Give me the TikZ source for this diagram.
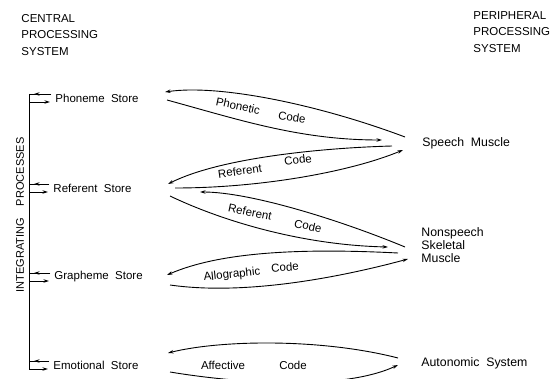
\documentclass[tikz,border=0pt]{standalone}
\usepackage{fontspec}
\setmainfont{Liberation Sans}
\usetikzlibrary{arrows.meta,positioning}

\tikzset{
        store/.style={anchor=west, inner sep=0pt, font=\fontsize{11.5}{13}\selectfont},
        target/.style={anchor=west, inner sep=0pt, align=left, font=\fontsize{12.3}{13}\selectfont},
        head/.style={anchor=north west, inner sep=0pt, align=left, font=\fontsize{11.5}{16.5}\selectfont},
        code/.style={inner sep=0pt, font=\fontsize{11.5}{12}\selectfont},
        arr/.style={-{Stealth[length=5.5pt,width=3.4pt]}},
}

\begin{document}
\begin{tikzpicture}[x=1pt, y=-1pt, line width=0.9pt]
        \clip (0,0) rectangle (559,379);

        \node[head] (cps) at (21,14) {CENTRAL\\PROCESSING\\SYSTEM};
        \node[head] (pps) at (473,11) {PERIPHERAL\\PROCESSING\\SYSTEM};

        \node[store] (phon) at (55,98) {Phoneme~~Store};
        \node[store] (refs) at (53,188) {Referent~~Store};
        \node[store] (graph) at (54,277) {Grapheme~~Store};
        \node[store] (emo) at (53,365) {Emotional~~Store};

        \node[target] (speech) at (422,143) {Speech~~Muscle};
        \node[target] (nonsp) at (421,245) {Nonspeech\\Skeletal\\Muscle};
        \node[target] (auto) at (421,363) {Autonomic~~System};

        \node[rotate=90, inner sep=0pt, font=\fontsize{11}{12}\selectfont] (ip) at (20,215)
              {INTEGRATING\hspace{12pt}PROCESSES};
        \coordinate (ip-x) at (29,0);

        \foreach \s in {phon,refs,graph,emo} {
          \coordinate (\s-out) at ([shift={(-4,-4)}]\s.west);
          \coordinate (\s-in) at ([shift={(-5,4)}]\s.west);
          \draw (\s-out) -- (\s-out -| ip-x);
          \draw[arr] (\s-out) -- ([xshift=5pt]\s-out -| ip-x);
          \draw[arr] (\s-in -| ip-x) -- (\s-in);
        }
        \draw (phon-out -| ip-x) -- (emo-in -| ip-x);

        \coordinate (pc1) at (405,137); \coordinate (pc2) at (165,92);
        \coordinate (pc3) at (167,100); \coordinate (pc4) at (382,140);
        \draw[arr] (pc1) .. controls (320,105) and (220,84) .. (pc2);
        \draw[arr] (pc3) .. controls (240,120) and (300,140) .. (pc4);
        \node[code, rotate=-12] (pc-a) at (238,106) {Phonetic};
        \node[code, rotate=-8] (pc-b) at (292,117) {Code};

        \coordinate (rc1) at (392,146); \coordinate (rc2) at (168,184);
        \coordinate (rc3) at (175,188); \coordinate (rc4) at (403,150);
        \draw[arr] (rc1) .. controls (320,148) and (220,158) .. (rc2);
        \draw[arr] (rc3) .. controls (260,188) and (350,172) .. (rc4);
        \node[code, rotate=8] (rc-a) at (240,171) {Referent};
        \node[code, rotate=8] (rc-b) at (298,160) {Code};

        \coordinate (kc1) at (405,247); \coordinate (kc2) at (200,192);
        \coordinate (kc3) at (170,196); \coordinate (kc4) at (388,247);
        \draw[arr] (kc1) .. controls (340,220) and (250,192) .. (kc2);
        \draw[arr] (kc3) .. controls (220,220) and (300,245) .. (kc4);
        \node[code, rotate=-12] (kc-a) at (250,212) {Referent};
        \node[code, rotate=-12] (kc-b) at (308,226) {Code};

        \coordinate (ac1) at (398,253); \coordinate (ac2) at (167,275);
        \coordinate (ac3) at (170,285); \coordinate (ac4) at (408,259);
        \draw[arr] (ac1) .. controls (300,248) and (220,252) .. (ac2);
        \draw[arr] (ac3) .. controls (240,295) and (330,280) .. (ac4);
        \node[code, rotate=6] (ac-a) at (232,275) {Allographic};
        \node[code, rotate=5] (ac-b) at (285,267) {Code};

        \coordinate (fc1) at (398,358); \coordinate (fc2) at (168,353);
        \coordinate (fc3) at (170,372); \coordinate (fc4) at (398,365);
        \draw[arr] (fc1) .. controls (320,338) and (220,340) .. (fc2);
        \draw[arr] (fc3) .. controls (230,382) and (340,392) .. (fc4);
        \node[code] (fc-a) at (223,365) {Affective};
        \node[code] (fc-b) at (293,365) {Code};
\end{tikzpicture}
\end{document}
